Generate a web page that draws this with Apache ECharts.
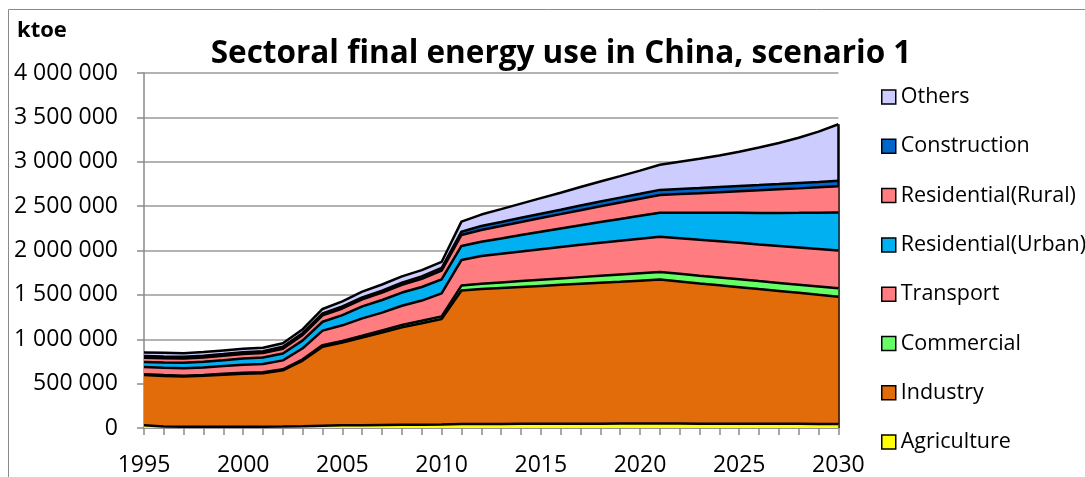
<!DOCTYPE html>
<html>
<head>
<meta charset="utf-8">
<script src="https://cdn.jsdelivr.net/npm/echarts@6/dist/echarts.min.js"></script>
<style>
  html, body { margin: 0; padding: 0; background: #fff; }
  #chart { width: 1085px; height: 477px; }
</style>
</head>
<body>
<div id="chart"></div>
<script>
// Sectoral final energy use in China, scenario 1 (ktoe)
const years = [
  '1995','1996','1997','1998','1999','2000','2001','2002','2003','2004',
  '2005','2006','2007','2008','2009','2010','2011','2012','2013','2014',
  '2015','2016','2017','2018','2019','2020','2021','2022','2023','2024',
  '2025','2026','2027','2028','2029','2030'
];

const agriculture = [
  30000, 18000, 15000, 15000, 15000, 15000, 15000, 16000, 20000, 26000,
  30000, 32000, 34000, 36000, 38000, 40000, 44000, 45000, 46000, 47000,
  48000, 48000, 49000, 49000, 50000, 50000, 50000, 50000, 49000, 49000,
  48000, 48000, 47000, 47000, 46000, 45000
];
const industry = [
  567000, 568000, 565000, 573000, 585000, 597000, 601000, 634000, 740000, 890000,
  932000, 986000, 1042000, 1098000, 1142000, 1188000, 1506000, 1520000, 1531000, 1542000,
  1553000, 1565000, 1576000, 1588000, 1598000, 1610000, 1622000, 1601000, 1580000, 1559000,
  1539000, 1517000, 1497000, 1476000, 1455000, 1435000
];
const commercial = [
  10000, 10000, 10000, 10000, 11000, 11000, 12000, 12000, 14000, 18000,
  20000, 22000, 24000, 26000, 28000, 30000, 55000, 60000, 63000, 66000,
  69000, 72000, 75000, 78000, 81000, 83000, 85000, 86000, 87000, 88000,
  89000, 90000, 91000, 92000, 94000, 95000
];
const transport = [
  80000, 82000, 83000, 85000, 87000, 90000, 93000, 100000, 125000, 163000,
  175000, 195000, 200000, 218000, 228000, 259000, 288000, 313000, 324000, 335000,
  345000, 355000, 364000, 373000, 382000, 390000, 398000, 401000, 404000, 407000,
  410000, 413000, 416000, 419000, 422000, 425000
];
const residentialUrban = [
  58000, 60000, 61000, 63000, 66000, 70000, 73000, 78000, 88000, 100000,
  115000, 135000, 142000, 148000, 153000, 158000, 158000, 161000, 172000, 184000,
  196000, 208000, 220000, 233000, 245000, 258000, 270000, 287000, 304000, 321000,
  338000, 355000, 372000, 390000, 409000, 428000
];
const residentialRural = [
  47000, 48000, 48000, 49000, 49000, 50000, 51000, 54000, 62000, 72000,
  75000, 79000, 83000, 88000, 93000, 98000, 124000, 132000, 140000, 147000,
  155000, 162000, 170000, 177000, 185000, 192000, 200000, 211000, 222000, 233000,
  244000, 255000, 266000, 276000, 286000, 297000
];
const construction = [
  20000, 20000, 20000, 20000, 20000, 20000, 20000, 21000, 22000, 22000,
  22000, 22000, 22000, 24000, 27000, 30000, 37000, 45000, 46000, 48000,
  49000, 50000, 52000, 53000, 55000, 56000, 58000, 58000, 58000, 59000,
  59000, 59000, 59000, 60000, 60000, 60000
];
const others = [
  40000, 42000, 41000, 40000, 41000, 40000, 40000, 40000, 42000, 50000,
  58000, 65000, 70000, 70000, 70000, 68000, 113000, 129000, 144000, 159000,
  175000, 191000, 209000, 226000, 242000, 261000, 284000, 306000, 329000, 354000,
  386000, 423000, 464000, 510000, 568000, 637000
];

const yTicks = { min: 0, max: 4000000, interval: 500000 };

const FONT = '"Open Sans", "Noto Sans", sans-serif';

// bottom-to-top stacking order
const layers = [
  { name: 'Agriculture',        data: agriculture,      color: '#FFFF00' },
  { name: 'Industry',           data: industry,         color: '#E36C0A' },
  { name: 'Commercial',         data: commercial,       color: '#66FF66' },
  { name: 'Transport',          data: transport,        color: '#FF7C80' },
  { name: 'Residential(Urban)', data: residentialUrban, color: '#00B0F0' },
  { name: 'Residential(Rural)', data: residentialRural, color: '#FF7C80' },
  { name: 'Construction',       data: construction,     color: '#0066CC' },
  { name: 'Others',             data: others,           color: '#CCCCFF' }
];

const lastIdx = years.length - 1;
const lastTotal = layers.reduce((s, l) => s + l.data[lastIdx], 0);

function spaced(v) {
  return String(v).replace(/\B(?=(\d{3})+(?!\d))/g, ' ');
}

const series = layers.map((l, i) => {
  const s = {
    name: l.name,
    type: 'line',
    stack: 'total',
    data: l.data,
    z: 10 - i,
    smooth: false,
    showSymbol: false,
    symbol: 'none',
    itemStyle: { color: l.color },
    lineStyle: { color: '#000', width: 2.5 },
    areaStyle: { color: l.color, opacity: 1 },
    emphasis: { disabled: true },
    silent: true
  };
  if (i === 0) {
    // closing edge of the stacked areas at the final year
    s.markLine = {
      symbol: 'none',
      silent: true,
      label: { show: false },
      lineStyle: { color: '#000', width: 2.5, type: 'solid' },
      data: [[
        { coord: [years[lastIdx], 0] },
        { coord: [years[lastIdx], lastTotal] }
      ]]
    };
  }
  return s;
});

const chart = echarts.init(document.getElementById('chart'), null, { renderer: 'canvas' });

chart.setOption({
  animation: false,
  backgroundColor: '#ffffff',
  title: {
    text: 'Sectoral final energy use in China, scenario 1',
    left: 556,
    top: 33,
    textAlign: 'center',
    textStyle: { fontFamily: FONT, fontSize: 31.5, fontWeight: 'bold', color: '#000' }
  },
  graphic: [
    {
      type: 'rect',
      shape: { x: 8.5, y: 9.5, width: 1200, height: 600 },
      style: { fill: 'none', stroke: '#8a8a8a', lineWidth: 1 },
      silent: true
    },
    {
      type: 'text',
      left: 17,
      top: 20,
      style: { text: 'ktoe', font: 'bold 22px ' + FONT, fill: '#000' },
      silent: true
    }
  ],
  legend: {
    orient: 'vertical',
    left: 876,
    top: 81,
    itemWidth: 14,
    itemHeight: 14,
    itemGap: 27.3,
    icon: 'rect',
    itemStyle: { borderColor: '#000', borderWidth: 1.5 },
    textStyle: { fontFamily: FONT, fontSize: 21.5, color: '#000', lineHeight: 22 },
    data: layers.map(l => l.name).reverse(),
    selectedMode: false
  },
  grid: {
    left: 144,
    right: 1085 - 838.4,
    top: 73,
    bottom: 477 - 428,
    containLabel: false,
    outerBoundsMode: 'none'
  },
  xAxis: {
    type: 'category',
    data: years,
    boundaryGap: false,
    axisLine: { show: true, lineStyle: { color: '#8a8a8a', width: 1.5 } },
    axisTick: { show: true, interval: 0, length: 7, lineStyle: { color: '#8a8a8a', width: 1.5 } },
    axisLabel: {
      interval: 4,
      margin: 26,
      fontFamily: FONT,
      fontSize: 23,
      color: '#000'
    },
    splitLine: { show: false }
  },
  yAxis: {
    type: 'value',
    min: yTicks.min,
    max: yTicks.max,
    interval: yTicks.interval,
    axisLine: { show: true, lineStyle: { color: '#8a8a8a', width: 1.5 } },
    axisTick: { show: true, length: 7, lineStyle: { color: '#8a8a8a', width: 1.5 } },
    axisLabel: {
      margin: 26,
      fontFamily: FONT,
      fontSize: 23,
      color: '#000',
      formatter: spaced
    },
    splitLine: { show: true, lineStyle: { color: '#9a9a9a', width: 1.5 } }
  },
  series: series
});
</script>
</body>
</html>
